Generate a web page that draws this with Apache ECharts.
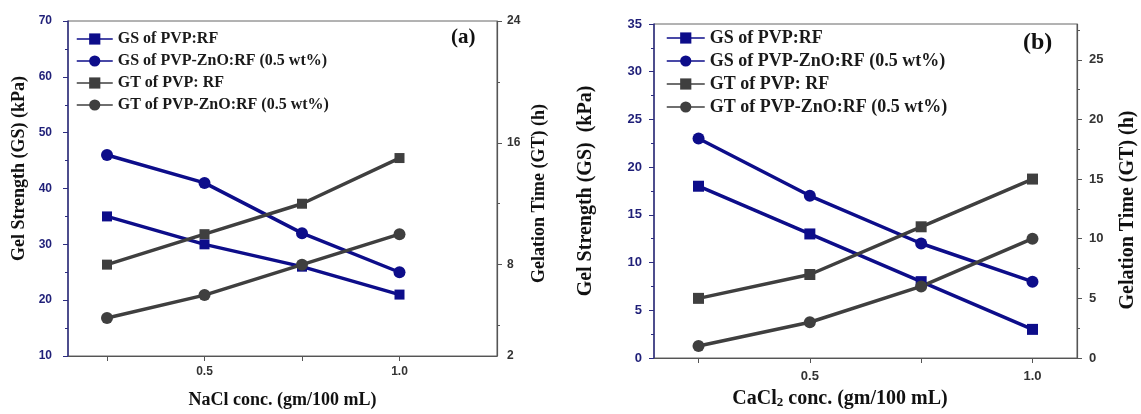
<!DOCTYPE html>
<html>
<head>
<meta charset="utf-8">
<script src="https://cdn.jsdelivr.net/npm/echarts@6/dist/echarts.min.js"></script>
<style>
html,body{margin:0;padding:0;background:#fff;}
#chart{width:1141px;height:414px;}
</style>
</head>
<body>
<div id="chart"></div>
<script>
// ---------- data ----------
const xValues = [0.25, 0.5, 0.75, 1.0];
const seriesNames = ['GS of PVP:RF', 'GS of PVP-ZnO:RF (0.5 wt%)', 'GT of PVP: RF', 'GT of PVP-ZnO:RF (0.5 wt%)'];

// panel (a) NaCl
const gsPvpA = [35, 30, 26, 21];
const gsZnoA = [46, 41, 32, 25];
const gtPvpA = [8, 10, 12, 15];
const gtZnoA = [4.5, 6, 8, 10];

// panel (b) CaCl2
const gsPvpB = [18, 13, 8, 3];
const gsZnoB = [23, 17, 12, 8];
const gtPvpB = [5, 7, 11, 15];
const gtZnoB = [1, 3, 6, 10];

// tick labels
const xTickLabels = [0.5, 1.0];
const xTickMarks = [0.25, 0.5, 0.75, 1.0];
const rightLabelsA = [2, 8, 16, 24];
const rightMajorA = [8, 16, 24];
const rightMinorA = [4, 12, 20];
const rightLabelsB = [0, 5, 10, 15, 20, 25];
const rightMinorB = [2.5, 7.5, 12.5, 17.5, 22.5, 27.5];

// ---------- styles ----------
const NAVY = '#0d0d8a';
const GRAY = '#3f3f3f';
const SERIF = '"Liberation Serif","Times New Roman",serif';
const SANS = '"Liberation Sans",Arial,sans-serif';

function pairs(ys) { return xValues.map((x, i) => [x, ys[i]]); }

function mkSeries(name, ys, color, symbol, xi, yi, size) {
  return {
    name: name, type: 'line', xAxisIndex: xi, yAxisIndex: yi,
    data: pairs(ys), symbol: symbol, symbolSize: size,
    lineStyle: { color: color, width: 3.5 },
    itemStyle: { color: color },
    emphasis: { disabled: true }, animation: false
  };
}

function xAxisDef(grid, max, name, extra) {
  return Object.assign({
    type: 'value', gridIndex: grid, min: 0.15, max: max,
    axisLine: { show: true, lineStyle: { color: '#555', width: 1.2 } },
    axisTick: { show: true, customValues: xTickMarks, length: 5, lineStyle: { color: '#555' } },
    axisLabel: { customValues: xTickLabels, formatter: v => Number(v).toFixed(1),
      color: '#333', fontFamily: SANS, fontWeight: 'bold', fontSize: 12, margin: 10 },
    splitLine: { show: false },
    name: name, nameLocation: 'middle', nameGap: 34,
    nameTextStyle: { fontFamily: SERIF, fontWeight: 'bold', fontSize: 18, color: '#111' }
  }, extra || {});
}

const option = {
  backgroundColor: '#fff',
  animation: false,
  grid: [
    { left: 68, top: 21, width: 429, height: 336, show: true, borderColor: '#666', borderWidth: 1 },
    { left: 654, top: 24, width: 423, height: 337, show: true, borderColor: '#666', borderWidth: 1 }
  ],
  title: [
    { text: '(a)', left: 451, top: 27, padding: 0,
      textStyle: { fontFamily: SERIF, fontWeight: 'bold', fontSize: 21, color: '#111' } },
    { text: '(b)', left: 1023, top: 31, padding: 0,
      textStyle: { fontFamily: SERIF, fontWeight: 'bold', fontSize: 24, color: '#111' } }
  ],
  legend: [
    { orient: 'vertical', left: 71, top: 25, itemWidth: 36, itemHeight: 14, itemGap: 4,
      data: seriesNames, selectedMode: false,
      lineStyle: { width: 1.5 },
      textStyle: { fontFamily: SERIF, fontWeight: 'bold', fontSize: 16, lineHeight: 18, color: '#1a1a1a' } },
    { orient: 'vertical', left: 661, top: 23, itemWidth: 38, itemHeight: 14, itemGap: 3,
      data: seriesNames, selectedMode: false,
      lineStyle: { width: 1.5 },
      textStyle: { fontFamily: SERIF, fontWeight: 'bold', fontSize: 18, lineHeight: 20, color: '#1a1a1a' } }
  ],
  xAxis: [
    xAxisDef(0, 1.25, 'NaCl conc. (gm/100 mL)', { nameGap: 35 }),
    xAxisDef(1, 1.10, 'CaCl{sub|2} conc. (gm/100 mL)', {
      nameGap: 31,
      axisLabel: { customValues: xTickLabels, formatter: v => Number(v).toFixed(1),
        color: '#333', fontFamily: SANS, fontWeight: 'bold', fontSize: 13, margin: 12 },
      nameTextStyle: { fontFamily: SERIF, fontWeight: 'bold', fontSize: 20, color: '#111',
        padding: [0, 51, 0, 0],
        rich: { sub: { fontFamily: SERIF, fontWeight: 'bold', fontSize: 13, color: '#111',
          verticalAlign: 'bottom', lineHeight: 16, padding: [8, 0, 0, 0] } } }
    })
  ],
  yAxis: [
    // 0: (a) left
    { type: 'value', gridIndex: 0, position: 'left', min: 10, max: 70, interval: 10,
      axisLine: { show: true, lineStyle: { color: '#2c2c80', width: 1.5 } },
      axisTick: { show: true, length: 5, lineStyle: { color: '#2c2c80' } },
      minorTick: { show: true, splitNumber: 2, length: 3, lineStyle: { color: '#2c2c80' } },
      axisLabel: { color: '#1f1f78', fontFamily: SANS, fontWeight: 'bold', fontSize: 12, margin: 16 },
      splitLine: { show: false },
      name: 'Gel Strength (GS) (kPa)', nameLocation: 'middle', nameRotate: 90, nameGap: 40,
      nameTextStyle: { fontFamily: SERIF, fontWeight: 'bold', fontSize: 18, color: '#111', padding: [0, 0, 0, 40] } },
    // 1: (a) right
    { type: 'value', gridIndex: 0, position: 'right', min: 2, max: 24,
      axisLine: { show: true, lineStyle: { color: '#555', width: 1.2 } },
      axisTick: { show: true, customValues: rightMajorA, length: 5, lineStyle: { color: '#555' } },
      axisLabel: { customValues: rightLabelsA, color: '#333', fontFamily: SANS, fontWeight: 'bold', fontSize: 12, margin: 10 },
      splitLine: { show: false },
      name: 'Gelation Time (GT) (h)', nameLocation: 'middle', nameRotate: 90, nameGap: 33,
      nameTextStyle: { fontFamily: SERIF, fontWeight: 'bold', fontSize: 18, color: '#111', padding: [0, 10, 0, 0] } },
    // 2: (a) right minor ticks
    { type: 'value', gridIndex: 0, position: 'right', min: 2, max: 24,
      axisLine: { show: false },
      axisTick: { show: true, customValues: rightMinorA, length: 3, lineStyle: { color: '#555' } },
      axisLabel: { show: false }, splitLine: { show: false } },
    // 3: (b) left
    { type: 'value', gridIndex: 1, position: 'left', min: 0, max: 35, interval: 5,
      axisLine: { show: true, lineStyle: { color: '#2c2c80', width: 1.5 } },
      axisTick: { show: true, length: 5, lineStyle: { color: '#2c2c80' } },
      minorTick: { show: true, splitNumber: 2, length: 3, lineStyle: { color: '#2c2c80' } },
      axisLabel: { color: '#1f1f78', fontFamily: SANS, fontWeight: 'bold', fontSize: 13, margin: 12 },
      splitLine: { show: false },
      name: 'Gel Strength (GS)  (kPa)', nameLocation: 'middle', nameRotate: 90, nameGap: 58,
      nameTextStyle: { fontFamily: SERIF, fontWeight: 'bold', fontSize: 20, color: '#111' } },
    // 4: (b) right
    { type: 'value', gridIndex: 1, position: 'right', min: 0, max: 28,
      axisLine: { show: true, lineStyle: { color: '#555', width: 1.2 } },
      axisTick: { show: true, customValues: rightLabelsB, length: 5, lineStyle: { color: '#555' } },
      axisLabel: { customValues: rightLabelsB, color: '#333', fontFamily: SANS, fontWeight: 'bold', fontSize: 13, margin: 12 },
      splitLine: { show: false },
      name: 'Gelation Time (GT) (h)', nameLocation: 'middle', nameRotate: 90, nameGap: 41,
      nameTextStyle: { fontFamily: SERIF, fontWeight: 'bold', fontSize: 20, color: '#111', padding: [0, 38, 0, 0] } },
    // 5: (b) right minor ticks
    { type: 'value', gridIndex: 1, position: 'right', min: 0, max: 28,
      axisLine: { show: false },
      axisTick: { show: true, customValues: rightMinorB, length: 3, lineStyle: { color: '#555' } },
      axisLabel: { show: false }, splitLine: { show: false } }
  ],
  series: [
    mkSeries(seriesNames[0], gsPvpA, NAVY, 'rect', 0, 0, 10),
    mkSeries(seriesNames[1], gsZnoA, NAVY, 'circle', 0, 0, 12),
    mkSeries(seriesNames[2], gtPvpA, GRAY, 'rect', 0, 1, 10),
    mkSeries(seriesNames[3], gtZnoA, GRAY, 'circle', 0, 1, 12),
    mkSeries(seriesNames[0], gsPvpB, NAVY, 'rect', 1, 3, 11),
    mkSeries(seriesNames[1], gsZnoB, NAVY, 'circle', 1, 3, 12),
    mkSeries(seriesNames[2], gtPvpB, GRAY, 'rect', 1, 4, 11),
    mkSeries(seriesNames[3], gtZnoB, GRAY, 'circle', 1, 4, 12)
  ]
};

const chart = echarts.init(document.getElementById('chart'), null, { renderer: 'canvas' });
chart.setOption(option);
</script>
</body>
</html>
